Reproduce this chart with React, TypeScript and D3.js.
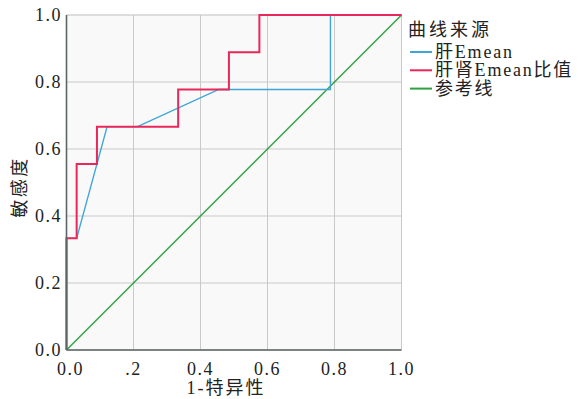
import React from "react";
import * as d3 from "d3";

const xTickValues = [0, 0.2, 0.4, 0.6, 0.8, 1.0];
const xTickLabels = ["0.0", ".2", "0.4", "0.6", "0.8", "1.0"];
const yTickValues = [0, 0.2, 0.4, 0.6, 0.8, 1.0];
const yTickLabels = ["0.0", "0.2", "0.4", "0.6", "0.8", "1.0"];

// ROC points: [1-specificity, sensitivity]
const liverFpr = [0, 0, 1 / 33, 4 / 33, 7 / 33, 15 / 33, 26 / 33, 26 / 33, 1];
const liverTpr = [0, 3 / 9, 3 / 9, 6 / 9, 6 / 9, 7 / 9, 7 / 9, 1, 1];

const ratioFpr = [0, 0, 1 / 33, 1 / 33, 3 / 33, 3 / 33, 11 / 33, 11 / 33, 16 / 33, 16 / 33, 19 / 33, 19 / 33, 1];
const ratioTpr = [0, 3 / 9, 3 / 9, 5 / 9, 5 / 9, 6 / 9, 6 / 9, 7 / 9, 7 / 9, 8 / 9, 8 / 9, 1, 1];

const refFpr = [0, 1];
const refTpr = [0, 1];

const legendTitle = "曲线来源";
const seriesNames = ["肝Emean", "肝肾Emean比值", "参考线"];
const seriesColors = ["#3ea6d6", "#e8285a", "#2ea043"];

const FONT = "'Liberation Serif', 'Noto Sans CJK SC', serif";

export default function App() {
  const left = 66.5, right = 401.5, top = 15, bottom = 350;
  const x = d3.scaleLinear().domain([0, 1]).range([left, right]);
  const y = d3.scaleLinear().domain([0, 1]).range([bottom, top]);
  const line = (xs: number[], ys: number[]) =>
    d3.line<number>().x((_, i) => x(xs[i])).y((_, i) => y(ys[i]))(xs.map((_, i) => i)) || "";

  return (
    <svg width={578} height={399} style={{ position: "absolute", left: 0, top: 0, background: "#fff" }}>
      <rect x={left} y={top} width={right - left} height={bottom - top} fill="#f9f9f9" stroke="#e6e6e6" />
      {xTickValues.map((v) => (
        <line key={"gx" + v} x1={x(v)} x2={x(v)} y1={top} y2={bottom} stroke="#c9c9c9" strokeWidth={1} />
      ))}
      {yTickValues.map((v) => (
        <line key={"gy" + v} x1={left} x2={right} y1={y(v)} y2={y(v)} stroke="#c9c9c9" strokeWidth={1} />
      ))}
      <path d={line(refFpr, refTpr)} fill="none" stroke={seriesColors[2]} strokeWidth={1.4} />
      <path d={line(liverFpr, liverTpr)} fill="none" stroke={seriesColors[0]} strokeWidth={1.4} />
      <path d={line(ratioFpr, ratioTpr)} fill="none" stroke={seriesColors[1]} strokeWidth={2} />
      <line x1={left} x2={left} y1={top} y2={bottom} stroke="#5b6665" strokeWidth={1.6} />
      <line x1={left} x2={right} y1={bottom} y2={bottom} stroke="#5b6665" strokeWidth={1.6} />
      {xTickValues.map((v, i) => (
        <text key={"xt" + v} x={x(v) + (i === 0 ? 4 : 0)} y={375} textAnchor="middle" fontFamily={FONT} fontSize={18} letterSpacing={1.5} fill="#222">
          {xTickLabels[i]}
        </text>
      ))}
      {yTickValues.map((v, i) => (
        <text key={"yt" + v} x={62} y={y(v) + 6} textAnchor="end" fontFamily={FONT} fontSize={18} letterSpacing={1.5} fill="#222">
          {yTickLabels[i]}
        </text>
      ))}
      <text x={226} y={394} textAnchor="middle" fontFamily={FONT} fontSize={18} letterSpacing={2} fill="#222">1-特异性</text>
      <text transform={`translate(26,187) rotate(-90)`} textAnchor="middle" fontFamily={FONT} fontSize={18} letterSpacing={2.5} fill="#222">敏感度</text>
      <text x={408} y={36} fontFamily={FONT} fontSize={18} letterSpacing={3} fill="#222">{legendTitle}</text>
      {seriesNames.map((n, i) => (
        <g key={n} transform={`translate(0,${52 + i * 18.3})`}>
          <line x1={410} x2={432} y1={0} y2={0} stroke={seriesColors[i]} strokeWidth={2} />
          <text x={435} y={6} fontFamily={FONT} fontSize={18} letterSpacing={1.8} fill="#222">{n}</text>
        </g>
      ))}
    </svg>
  );
}
